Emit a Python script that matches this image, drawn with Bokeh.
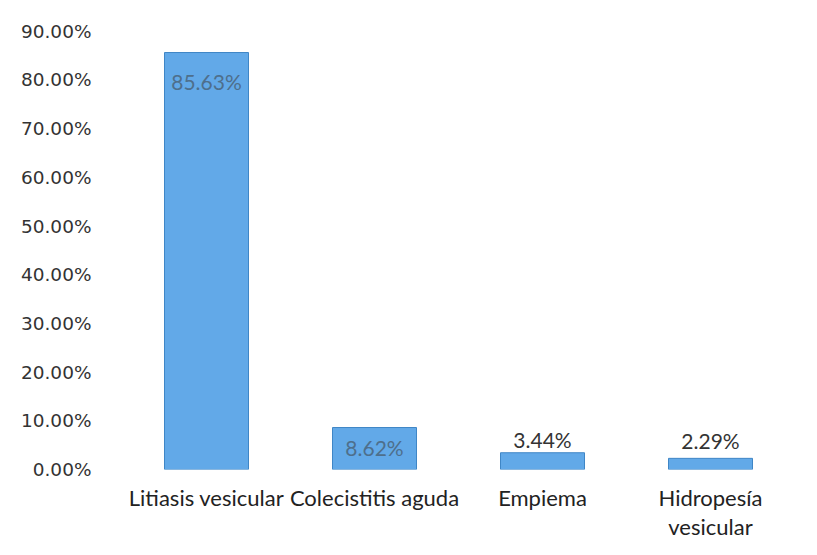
from bokeh.plotting import figure
from bokeh.models import ColumnDataSource, FactorRange, Range1d, FixedTicker
from bokeh.core.properties import value
from bokeh.embed import file_html
from bokeh.resources import INLINE

categories = ["Litiasis vesicular", "Colecistitis aguda", "Empiema", "Hidropesía\nvesicular"]
values = [85.63, 8.62, 3.44, 2.29]
labels = ["85.63%", "8.62%", "3.44%", "2.29%"]
y_ticks = [0, 10, 20, 30, 40, 50, 60, 70, 80, 90]

p = figure(width=817, height=555, output_backend="svg", toolbar_location=None,
           x_range=FactorRange(factors=categories, range_padding=0),
           y_range=Range1d(0, 92),
           min_border_left=122, min_border_right=23, min_border_top=21, min_border_bottom=86)
p.outline_line_color = None
p.background_fill_color = "white"

src = ColumnDataSource(dict(x=categories, top=values))
p.vbar(x="x", top="top", width=0.5, source=src, fill_color="#62A9E8", line_color="#3F86C6", line_width=1)

inside = ColumnDataSource(dict(x=categories[:2], y=values[:2], t=labels[:2], off=[16, 7]))
p.text(x="x", y="y", text="t", source=inside, y_offset="off", text_align="center", text_baseline="top",
       text_font=value("Lato"), text_font_size="21px", text_color="#4E6F8C")
outside = ColumnDataSource(dict(x=categories[2:], y=values[2:], t=labels[2:], off=[-1, -5]))
p.text(x="x", y="y", text="t", source=outside, y_offset="off", text_align="center", text_baseline="bottom",
       text_font=value("Lato"), text_font_size="21px", text_color="#333333")

p.yaxis.ticker = FixedTicker(ticks=y_ticks)
p.yaxis.major_label_overrides = {t: f"{t:.2f}%" for t in y_ticks}
p.yaxis.axis_line_color = None
p.yaxis.major_tick_line_color = None
p.yaxis.minor_tick_line_color = None
p.yaxis.major_label_standoff = 25
p.yaxis.major_label_text_font = "DejaVu Sans"
p.yaxis.major_label_text_font_size = "18.5px"
p.yaxis.major_label_text_color = "#333333"

p.xaxis.axis_line_color = None
p.xaxis.major_tick_line_color = None
p.xaxis.major_label_standoff = 8
p.xaxis.major_label_text_font = "Lato"
p.xaxis.major_label_text_font_size = "22px"
p.xaxis.major_label_text_color = "#222222"
p.xaxis.major_label_text_line_height = 1.1

p.xgrid.grid_line_color = None
p.ygrid.grid_line_color = None

open("out.html", "w").write(file_html(p, INLINE))
